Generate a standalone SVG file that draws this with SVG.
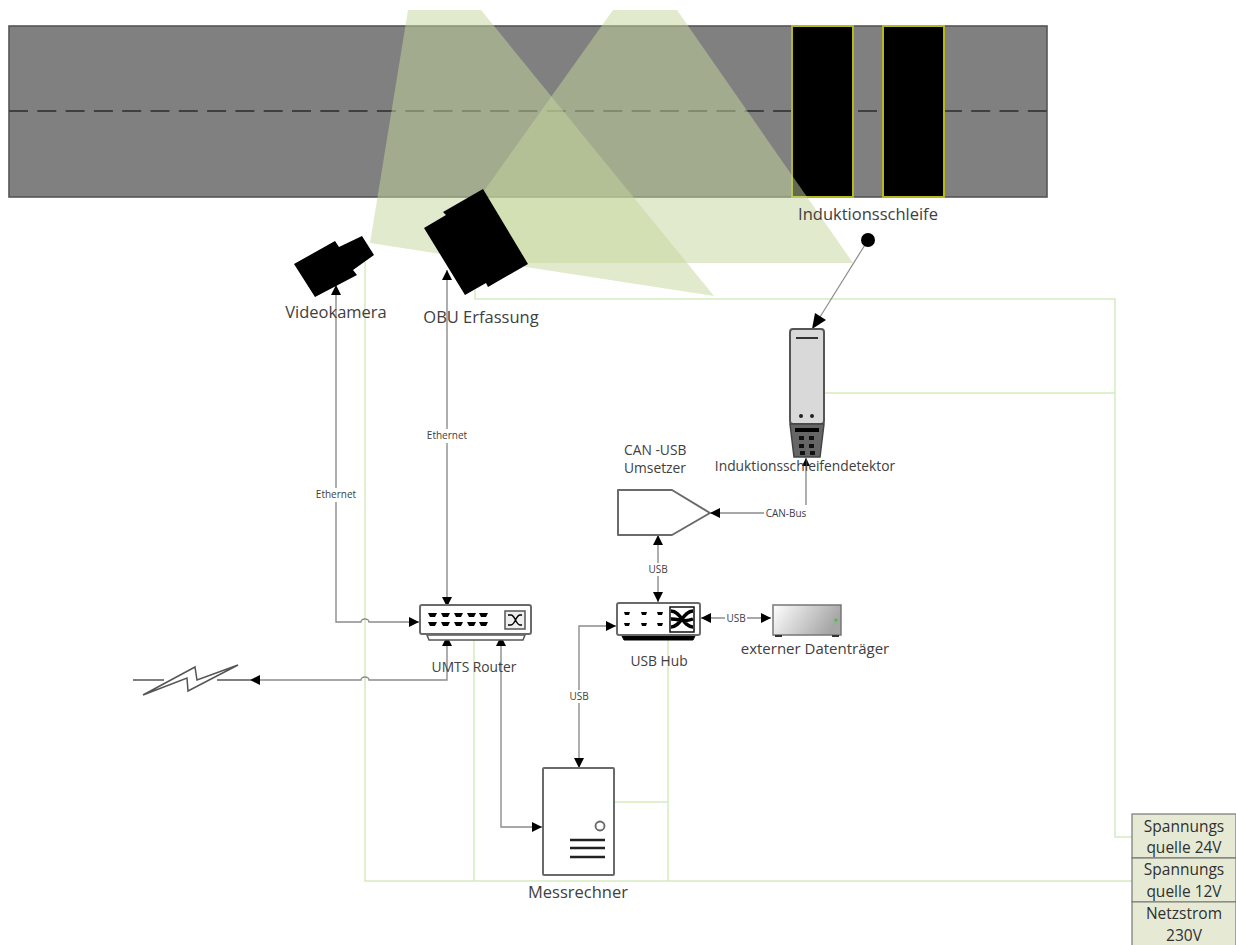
<svg xmlns="http://www.w3.org/2000/svg" width="1236" height="945" viewBox="0 0 1236 945">
<style>
text{font-family:"Open Sans","Noto Sans","Liberation Sans",sans-serif;fill:#404040}
.l{font-size:16.5px}
.t{font-size:13.8px}
.e{font-size:15px}
.s{font-size:10px;text-anchor:middle}
.m{text-anchor:middle}
.p{fill:none;stroke:#d4ebbd;stroke-width:1.5}
.c{fill:none;stroke:#8c8c8c;stroke-width:1.4}
.k{fill:#000}
.b{fill:#fff;stroke:#6a6a6a;stroke-width:2;stroke-linejoin:round}
.lab{fill:#fff}
.v{font-size:15.5px;text-anchor:middle;fill:#303030}
</style>
<defs>
<marker id="a" viewBox="0 0 10 10" refX="10" refY="5" markerWidth="10" markerHeight="10" markerUnits="userSpaceOnUse" orient="auto-start-reverse"><path d="M0 0L10 5L0 10Z" fill="#000"/></marker>
<linearGradient id="g" x1="0" x2="1" y1="0" y2="0.3"><stop offset="0" stop-color="#fff"/><stop offset="1" stop-color="#a6a6a6"/></linearGradient>
</defs>
<g id="road">
<rect x="9" y="26" width="1038" height="171" fill="#808080" stroke="#555" stroke-width="1.6"/>
<path d="M9 111H1047" fill="none" stroke="#404040" stroke-width="1.8" stroke-dasharray="19 9.3"/>
</g>
<g id="loops">
<rect x="792" y="26" width="61" height="171" fill="#000" stroke="#b8b81e" stroke-width="2"/>
<rect x="883" y="26" width="61" height="171" fill="#000" stroke="#b8b81e" stroke-width="2"/>
</g>
<g id="cones" fill="#c3d69b" fill-opacity="0.5">
<path d="M408 10H481L714 296L370 243Z"/>
<path d="M613 10H677L853 263H500L449 240Z"/>
</g>
<g id="power">
<path class="p" d="M365 262V881H1132"/>
<path class="p" d="M475 290V299H1115V837H1132"/>
<path class="p" d="M825 393H1115"/>
<path class="p" d="M474 640V881"/>
<path class="p" d="M668 640V881"/>
<path class="p" d="M615 802H668"/>
</g>
<g id="connectors">
<path class="c" d="M336 285V622H361a4 3 0 0 1 8 0H419" marker-start="url(#a)" marker-end="url(#a)"/>
<path class="c" d="M447 270V607" marker-start="url(#a)" marker-end="url(#a)"/>
<path class="c" d="M447 636V680H369a4 3 0 0 0 -8 0H250" marker-start="url(#a)" marker-end="url(#a)"/>
<path class="c" d="M501 636V827H542" marker-start="url(#a)" marker-end="url(#a)"/>
<path class="c" d="M579 768V626H616" marker-start="url(#a)" marker-end="url(#a)"/>
<path class="c" d="M658 535V602" marker-start="url(#a)" marker-end="url(#a)"/>
<path class="c" d="M701 618H771" marker-start="url(#a)" marker-end="url(#a)"/>
<path class="c" d="M806 458V505M806 513H710" marker-end="url(#a)"/>
<path d="M806 458l-4 8h8Z" class="k"/>
<path d="M868 240L815 325" fill="none" stroke="#8c8c8c" stroke-width="1.2"/>
<path d="M812 329L815 313L826 320Z" class="k"/>
<rect class="lab" x="423" y="429" width="48" height="14"/><text class="s" x="447" y="439">Ethernet</text>
<rect class="lab" x="312" y="488" width="48" height="14"/><text class="s" x="336" y="498">Ethernet</text>
<rect class="lab" x="764" y="507" width="46" height="13"/><text class="s" x="786" y="517">CAN-Bus</text>
<rect class="lab" x="646" y="563" width="24" height="13"/><text class="s" x="658" y="573">USB</text>
<rect class="lab" x="725" y="612" width="22" height="13"/><text class="s" x="736" y="622">USB</text>
<rect class="lab" x="568" y="690" width="22" height="13"/><text class="s" x="579" y="700">USB</text>
</g>
<g id="funk">
<path d="M133 680H164M217 680H250" fill="none" stroke="#555" stroke-width="1.4"/>
<path d="M143 695L195 667L197 680L238 665L188 691L187 678Z" fill="#fff" stroke="#555" stroke-width="1.5" stroke-linejoin="miter"/>
</g>
<g id="videokamera">
<path class="k" d="M362 236L374 255L353 270L357 275L315 297L294 264L335 241L339 247Z"/>
<text class="l m" x="336" y="318">Videokamera</text>
</g>
<g id="obu">
<path class="k" d="M483 189L528 264L488 287L486 283L465 295L424 228L446 215L443 212Z"/>
<text class="l m" x="481" y="323">OBU Erfassung</text>
</g>
<g id="induktionsschleife">
<text class="l m" x="868" y="220">Induktionsschleife</text>
<circle cx="868" cy="240" r="7" fill="#000"/>
</g>
<g id="detektor">
<rect x="790" y="329" width="34" height="95" rx="3" fill="#d9d9d9" stroke="#555" stroke-width="2"/>
<path d="M796 338H818" stroke="#333" stroke-width="2"/>
<circle cx="801" cy="416" r="2" fill="#222"/><circle cx="812" cy="416" r="2" fill="#222"/>
<path d="M790 424H824L820 457H794Z" fill="#666" stroke="#444" stroke-width="1.5"/>
<rect x="795" y="428" width="24" height="4" fill="#000"/>
<g fill="#111"><rect x="799" y="436" width="5" height="4"/><rect x="809" y="436" width="5" height="4"/><rect x="799" y="444" width="5" height="4"/><rect x="809" y="444" width="5" height="4"/><rect x="800" y="451" width="5" height="4"/><rect x="810" y="451" width="5" height="4"/></g>
<text class="t m" x="805" y="471">Induktionsschleifendetektor</text>
</g>
<g id="umsetzer">
<text class="t" x="624" y="455">CAN -USB</text>
<text class="t" x="624" y="473">Umsetzer</text>
<path class="b" d="M618 490H672L710 513L672 535H618Z"/>
</g>
<g id="router">
<path d="M427 635H525L523 640H429Z" fill="#fff" stroke="#555" stroke-width="1.5"/>
<rect class="b" x="420" y="605" width="111" height="29" rx="2"/>
<g class="k">
<path d="M428 613h9l-2 4h-5ZM441 613h9l-2 4h-5ZM454 613h9l-2 4h-5ZM467 613h9l-2 4h-5ZM479 613h9l-2 4h-5Z"/>
<path d="M428 622h9l-2 4h-5ZM441 622h9l-2 4h-5ZM454 622h9l-2 4h-5ZM467 622h9l-2 4h-5ZM479 622h9l-2 4h-5Z"/>
</g>
<rect x="505" y="611" width="20" height="18" fill="#eee" stroke="#555" stroke-width="1.5"/>
<path d="M508 615h3c4 0 5 10 9 10h2M508 625h3c4 0 5-10 9-10h2" fill="none" stroke="#000" stroke-width="1.4"/>
<text class="t m" x="474" y="672">UMTS Router</text>
</g>
<g id="hub">
<path d="M622 636H695L693 640H624Z" fill="#000" stroke="#000"/>
<rect class="b" x="617" y="603" width="83" height="32" rx="2"/>
<g class="k"><path d="M624 612h6l-1 3h-4ZM641 612h6l-1 3h-4ZM657 612h6l-1 3h-4ZM624 623h6l-1 3h-4ZM641 623h6l-1 3h-4ZM657 623h6l-1 3h-4Z"/></g>
<rect x="670" y="607" width="24" height="25" fill="#fff" stroke="#111" stroke-width="1.5"/>
<path d="M671 611c10 0 12 16 22 16M671 627c10 0 12-16 22-16M671 619c10 0 12 4 22 0" fill="none" stroke="#000" stroke-width="3.4"/>
<text class="t m" x="659" y="666">USB Hub</text>
</g>
<g id="datentraeger">
<rect x="773" y="605" width="68" height="30" fill="url(#g)" stroke="#777" stroke-width="1.5"/>
<rect x="775" y="635" width="7" height="2" fill="#333"/><rect x="832" y="635" width="7" height="2" fill="#333"/>
<circle cx="836" cy="620" r="1.6" fill="#3c3"/>
<text class="e m" x="815" y="654">externer Datenträger</text>
</g>
<g id="messrechner">
<rect class="b" x="543" y="768" width="71" height="107" rx="1"/>
<circle cx="600" cy="826" r="4.5" fill="#fff" stroke="#666" stroke-width="1.8"/>
<path d="M570 840H605M570 848H605M570 857H605" stroke="#222" stroke-width="2.4"/>
<text class="l m" x="578" y="898">Messrechner</text>
</g>
<g id="power-supply">
<rect x="1132" y="814" width="104" height="44" fill="#e6ead5" stroke="#777" stroke-width="1.2"/>
<rect x="1132" y="858" width="104" height="44" fill="#e6ead5" stroke="#777" stroke-width="1.2"/>
<rect x="1132" y="902" width="104" height="43" fill="#e6ead5"/>
<path d="M1132 945V902H1236V945" stroke="#777" stroke-width="1.2" fill="none"/>
<text class="v" x="1184" y="832">Spannungs</text>
<text class="v" x="1184" y="853">quelle 24V</text>
<text class="v" x="1184" y="875">Spannungs</text>
<text class="v" x="1184" y="897">quelle 12V</text>
<text class="v" x="1184" y="919">Netzstrom</text>
<text class="v" x="1184" y="941">230V</text>
</g>
</svg>
